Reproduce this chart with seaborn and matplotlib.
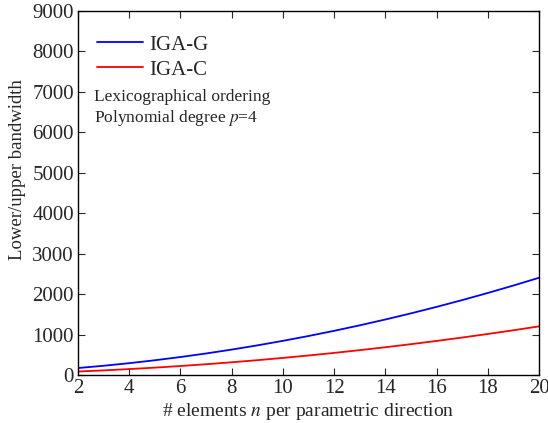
import matplotlib
matplotlib.use("Agg")
import matplotlib.pyplot as plt
import seaborn as sns
import pandas as pd

# ---- data ----
n_elements = [2, 3, 4, 5, 6, 7, 8, 9, 10, 11, 12, 13, 14, 15, 16, 17, 18, 19, 20]
iga_g = [172, 228, 292, 364, 444, 532, 628, 732, 844, 964, 1092, 1228,
         1372, 1524, 1684, 1852, 2028, 2212, 2404]
iga_c = [86, 114, 146, 182, 222, 266, 314, 366, 422, 482, 546, 614,
         686, 762, 842, 926, 1014, 1106, 1202]

df = pd.DataFrame({
    "n": n_elements * 2,
    "bandwidth": iga_g + iga_c,
    "method": ["IGA-G"] * len(n_elements) + ["IGA-C"] * len(n_elements),
})

sns.set_style("ticks")
plt.rcParams["font.family"] = ["Liberation Serif", "DejaVu Serif"]
plt.rcParams["mathtext.fontset"] = "stix"

fig = plt.figure(figsize=(5.48, 4.23), dpi=100)
ax = fig.add_axes([0.1423, 0.1135, 0.8413, 0.8605])

sns.lineplot(data=df, x="n", y="bandwidth", hue="method",
             palette={"IGA-G": "#0000ff", "IGA-C": "#ff0000"},
             linewidth=1.3, ax=ax)

ax.set_xlim(2, 20)
ax.set_ylim(0, 9000)
ax.set_xticks(range(2, 21, 2))
ax.set_yticks(range(0, 9001, 1000))
ax.tick_params(direction="in", top=True, right=True, labelsize=15,
               length=5, width=0.8, pad=3)
for s in ax.spines.values():
    s.set_visible(True)
    s.set_linewidth(1.0)
    s.set_color("black")

ax.set_xlabel("# elements $n$ per parametric direction", fontsize=14, labelpad=2)
ax.set_ylabel("Lower/upper bandwidth", fontsize=13.5)
ax.yaxis.set_label_coords(-0.113, 0.564)

leg = ax.legend(loc="upper left", frameon=False, fontsize=15,
                handlelength=2.2, handletextpad=0.3, labelspacing=0.25,
                bbox_to_anchor=(0.0, 0.985))
ax.text(0.035, 0.785, "Lexicographical ordering\nPolynomial degree $p$=4",
        transform=ax.transAxes, fontsize=12.5, va="top", linespacing=1.2)

fig.savefig("out.png", dpi=100, facecolor="white")
